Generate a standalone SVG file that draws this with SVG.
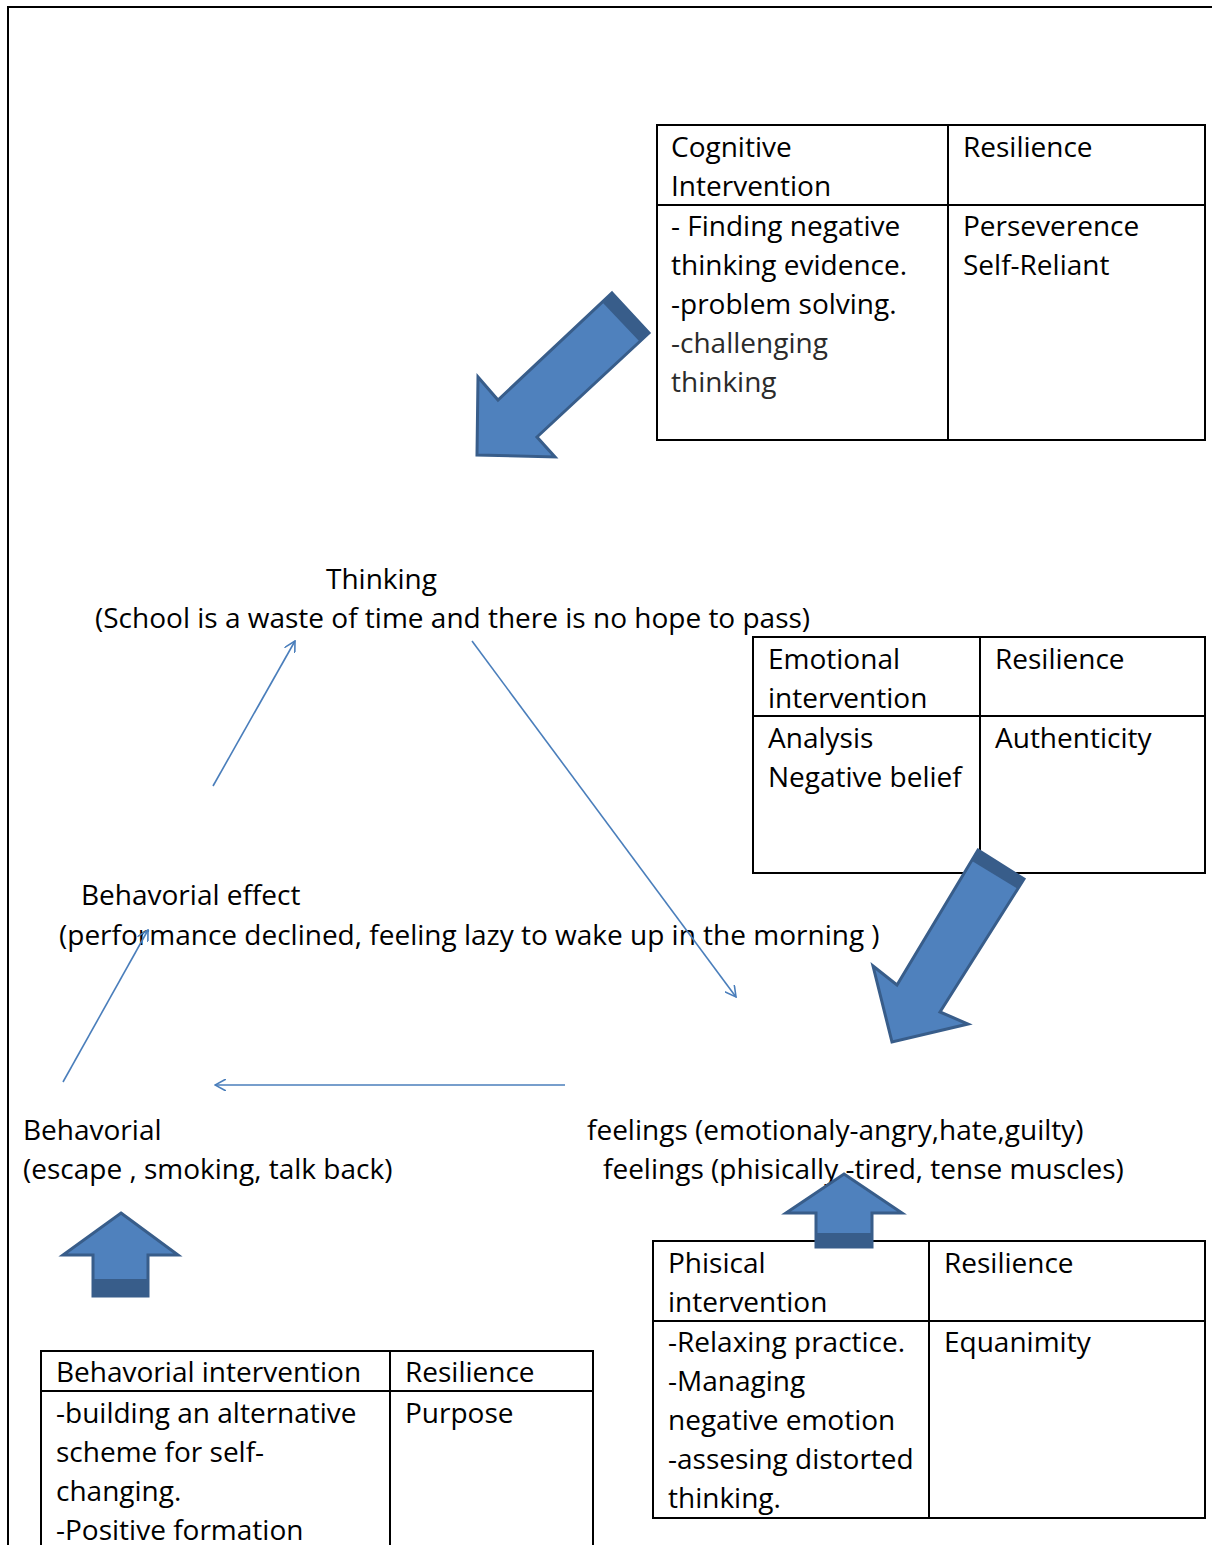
<svg xmlns="http://www.w3.org/2000/svg" width="1212" height="1545" viewBox="0 0 1212 1545">
<defs>
<style>
text{font-family:"Open Sans","Noto Sans",sans-serif;font-size:28px;fill:#000}
.tb{fill:none;stroke:#000;stroke-width:2}
.gray{fill:#2b2b2b}
.blk{fill:#4f81bd;stroke:#385d8a;stroke-width:3;stroke-linejoin:miter}
.cap{fill:#385d8a}
.thin{stroke:#4a7ebb;stroke-width:1.6;fill:none}
</style>
<marker id="ah" viewBox="0 0 12 12" refX="11" refY="6" markerWidth="12" markerHeight="12" markerUnits="userSpaceOnUse" orient="auto">
<path d="M0,0 L11,6 L0,12" fill="none" stroke="#4a7ebb" stroke-width="1.6"/>
</marker>
</defs>
<rect width="1212" height="1545" fill="#fff"/>
<path d="M8,1545 V7 H1212" fill="none" stroke="#000" stroke-width="2"/>

<g id="cognitive">
<rect class="tb" x="657" y="125" width="548" height="315"/>
<line class="tb" x1="948" y1="125" x2="948" y2="440"/>
<line class="tb" x1="657" y1="205" x2="1205" y2="205"/>
<text x="671" y="157">Cognitive</text>
<text x="671" y="196">Intervention</text>
<text x="963" y="157">Resilience</text>
<text x="671" y="236">- Finding negative</text>
<text x="671" y="275">thinking evidence.</text>
<text x="671" y="314">-problem solving.</text>
<text x="671" y="353" class="gray">-challenging</text>
<text x="671" y="392" class="gray">thinking</text>
<text x="963" y="236">Perseverence</text>
<text x="963" y="275">Self-Reliant</text>
</g>

<g id="emotional">
<rect class="tb" x="753" y="637" width="452" height="236"/>
<line class="tb" x1="980" y1="637" x2="980" y2="873"/>
<line class="tb" x1="753" y1="716" x2="1205" y2="716"/>
<text x="768" y="669">Emotional</text>
<text x="768" y="708">intervention</text>
<text x="995" y="669">Resilience</text>
<text x="768" y="748">Analysis</text>
<text x="768" y="787">Negative belief</text>
<text x="995" y="748">Authenticity</text>
</g>

<g id="physical">
<rect class="tb" x="653" y="1241" width="552" height="277"/>
<line class="tb" x1="929" y1="1241" x2="929" y2="1518"/>
<line class="tb" x1="653" y1="1321" x2="1205" y2="1321"/>
<text x="668" y="1273">Phisical</text>
<text x="668" y="1312">intervention</text>
<text x="944" y="1273">Resilience</text>
<text x="668" y="1352">-Relaxing practice.</text>
<text x="668" y="1391">-Managing</text>
<text x="668" y="1430">negative emotion</text>
<text x="668" y="1469">-assesing distorted</text>
<text x="668" y="1508">thinking.</text>
<text x="944" y="1352">Equanimity</text>
</g>

<g id="behavioral-intervention">
<path class="tb" d="M41,1546 V1351 H593 V1546"/>
<line class="tb" x1="390" y1="1351" x2="390" y2="1546"/>
<line class="tb" x1="41" y1="1391" x2="593" y2="1391"/>
<text x="56" y="1382">Behavorial intervention</text>
<text x="405" y="1382">Resilience</text>
<text x="56" y="1423">-building an alternative</text>
<text x="56" y="1462">scheme for self-</text>
<text x="56" y="1501">changing.</text>
<text x="56" y="1540">-Positive formation</text>
<text x="405" y="1423">Purpose</text>
</g>

<g id="thinking">
<text x="326" y="589">Thinking</text>
<text x="95" y="628">(School is a waste of time and there is no hope to pass)</text>
</g>
<g id="behavioral-effect">
<text x="81" y="905">Behavorial effect</text>
<text x="59" y="945">(performance declined, feeling lazy to wake up in the morning )</text>
</g>
<g id="behavioral">
<text x="23" y="1140">Behavorial</text>
<text x="23" y="1179">(escape , smoking, talk back)</text>
</g>
<g id="feelings">
<text x="587" y="1140">feelings (emotionaly-angry,hate,guilty)</text>
<text x="603" y="1179">feelings (phisically -tired, tense muscles)</text>
</g>

<g id="connectors">
<line class="thin" x1="213" y1="786" x2="295" y2="641" marker-end="url(#ah)"/>
<line class="thin" x1="472" y1="641" x2="736" y2="997" marker-end="url(#ah)"/>
<line class="thin" x1="565" y1="1085" x2="215" y2="1085" marker-end="url(#ah)"/>
<line class="thin" x1="63" y1="1082" x2="148" y2="930" marker-end="url(#ah)"/>
</g>

<g id="block-arrows">
<polygon class="blk" points="612,293 649,333 537,437 555,457 477,455 478,377 498,400"/>
<polygon class="cap" points="612,293 649,333 640,342 603,303"/>
<polygon class="blk" points="978,850 1024,879 940,1012 968,1024 892,1042 873,966 897,985"/>
<polygon class="cap" points="978,850 1024,879 1018,889 972,861"/>
<polygon class="blk" points="121,1213 178,1255 148,1255 148,1296 93,1296 93,1255 63,1255"/>
<rect class="cap" x="93" y="1279" width="55" height="17"/>
<polygon class="blk" points="844,1174 902,1213 872,1213 872,1247 816,1247 816,1213 786,1213"/>
<rect class="cap" x="816" y="1233" width="56" height="15"/>
</g>
</svg>
